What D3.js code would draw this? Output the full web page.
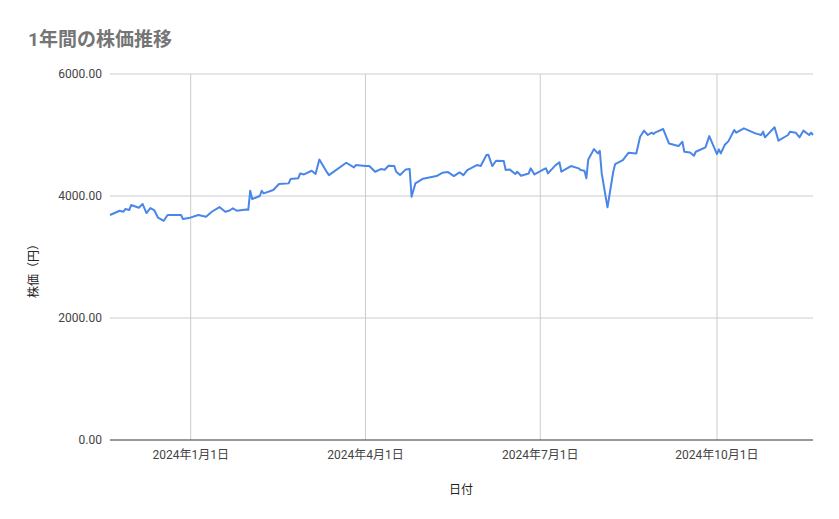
<!DOCTYPE html>
<html><head><meta charset="utf-8">
<script src="https://cdn.jsdelivr.net/npm/d3@7"></script>
<style>body{margin:0;background:#fff}svg{font-family:Roboto,"Noto Sans CJK JP",sans-serif}</style>
</head><body><svg id="c" width="839" height="519"></svg>
<script>
const dates=["2023-11-20","2023-11-25","2023-11-27","2023-11-28","2023-11-30","2023-12-01","2023-12-05","2023-12-07","2023-12-09","2023-12-11","2023-12-13","2023-12-15","2023-12-18","2023-12-20","2023-12-27","2023-12-28","2023-12-31","2024-01-05","2024-01-09","2024-01-12","2024-01-16","2024-01-19","2024-01-21","2024-01-23","2024-01-25","2024-01-30","2024-01-31","2024-02-01","2024-02-02","2024-02-06","2024-02-07","2024-02-08","2024-02-13","2024-02-16","2024-02-21","2024-02-22","2024-02-26","2024-02-27","2024-02-29","2024-03-04","2024-03-06","2024-03-08","2024-03-12","2024-03-13","2024-03-22","2024-03-26","2024-03-27","2024-04-01","2024-04-03","2024-04-06","2024-04-09","2024-04-11","2024-04-13","2024-04-16","2024-04-17","2024-04-19","2024-04-22","2024-04-24","2024-04-25","2024-04-27","2024-05-01","2024-05-08","2024-05-11","2024-05-14","2024-05-17","2024-05-20","2024-05-22","2024-05-24","2024-05-29","2024-05-31","2024-06-03","2024-06-04","2024-06-06","2024-06-08","2024-06-12","2024-06-13","2024-06-15","2024-06-18","2024-06-19","2024-06-21","2024-06-25","2024-06-26","2024-06-28","2024-07-03","2024-07-04","2024-07-05","2024-07-09","2024-07-11","2024-07-12","2024-07-17","2024-07-21","2024-07-22","2024-07-24","2024-07-25","2024-07-26","2024-07-29","2024-07-31","2024-08-01","2024-08-02","2024-08-05","2024-08-08","2024-08-09","2024-08-13","2024-08-15","2024-08-16","2024-08-20","2024-08-22","2024-08-24","2024-08-26","2024-08-28","2024-08-29","2024-08-30","2024-09-03","2024-09-06","2024-09-09","2024-09-11","2024-09-13","2024-09-14","2024-09-17","2024-09-19","2024-09-20","2024-09-25","2024-09-27","2024-10-01","2024-10-02","2024-10-03","2024-10-05","2024-10-07","2024-10-10","2024-10-11","2024-10-15","2024-10-21","2024-10-24","2024-10-25","2024-10-26","2024-10-31","2024-11-02","2024-11-07","2024-11-08","2024-11-11","2024-11-13","2024-11-15","2024-11-18","2024-11-19","2024-11-20"];
const prices=[3688,3758,3742,3786,3770,3852,3808,3868,3720,3802,3770,3644,3594,3688,3688,3622,3638,3688,3660,3742,3819,3742,3758,3797,3758,3780,3775,4086,3950,4000,4086,4043,4098,4196,4207,4278,4289,4370,4354,4414,4360,4600,4387,4343,4545,4469,4507,4491,4491,4398,4442,4430,4496,4491,4398,4343,4436,4442,3988,4207,4284,4327,4381,4392,4327,4387,4343,4425,4507,4491,4671,4675,4491,4578,4573,4425,4436,4360,4398,4332,4370,4453,4354,4442,4453,4370,4507,4551,4398,4491,4453,4425,4414,4289,4600,4769,4698,4742,4370,3814,4398,4523,4589,4671,4709,4698,4971,5071,5000,5038,5016,5044,5098,4862,4835,4819,4890,4725,4714,4660,4725,4797,4982,4687,4764,4698,4835,4900,5082,5038,5109,5027,5000,5055,4962,5126,4907,5000,5055,5038,4962,5071,5000,5038,5000];
const yTicks=[0,2000,4000,6000];
const xTickDates=["2024-01-01","2024-04-01","2024-07-01","2024-10-01"];
const title="1年間の株価推移", yTitle="株価（円）", xTitle="日付";

const parse=d3.timeParse("%Y-%m-%d");
const data=dates.map((d,i)=>({d:parse(d),v:prices[i]}));
const svg=d3.select("#c");
const L=110,R=813,T=74,B=440;
const x=d3.scaleTime().domain([parse("2023-11-20"),parse("2024-11-20")]).range([L,R]);
const y=d3.scaleLinear().domain([0,6000]).range([B,T]);
const fmtX=d=>`${d.getFullYear()}年${d.getMonth()+1}月${d.getDate()}日`;

svg.append("g").selectAll("line").data(yTicks.filter(v=>v>0)).join("line")
 .attr("x1",L).attr("x2",R).attr("y1",d=>y(d)).attr("y2",d=>y(d)).attr("stroke","#cccccc");
const xt=xTickDates.map(parse);
svg.append("g").selectAll("line").data(xt).join("line")
 .attr("x1",d=>x(d)).attr("x2",d=>x(d)).attr("y1",T).attr("y2",B).attr("stroke","#cccccc");
svg.append("line").attr("x1",L).attr("x2",R).attr("y1",B).attr("y2",B).attr("stroke","#333");
svg.append("g").selectAll("text").data(yTicks).join("text")
 .attr("x",102).attr("y",d=>y(d)+4).attr("text-anchor","end").attr("font-size",12).attr("fill","#444")
 .text(d=>d3.format(".2f")(d));
svg.append("g").selectAll("text").data(xt).join("text")
 .attr("x",d=>x(d)).attr("y",459).attr("text-anchor","middle").attr("font-size",12).attr("fill","#444").text(fmtX);
svg.append("path").datum(data).attr("fill","none").attr("stroke","#4a86e8").attr("stroke-width",2)
 .attr("stroke-linejoin","round").attr("d",d3.line().x(d=>x(d.d)).y(d=>y(d.v)));
svg.append("text").attr("x",28).attr("y",46).attr("font-size",19).attr("font-weight","bold").attr("fill","#757575").text(title);
svg.append("text").attr("transform","translate(38,268) rotate(-90)").attr("text-anchor","middle").attr("font-size",12).attr("fill","#222").text(yTitle);
svg.append("text").attr("x",461).attr("y",494).attr("text-anchor","middle").attr("font-size",12).attr("fill","#222").text(xTitle);
</script></body></html>
